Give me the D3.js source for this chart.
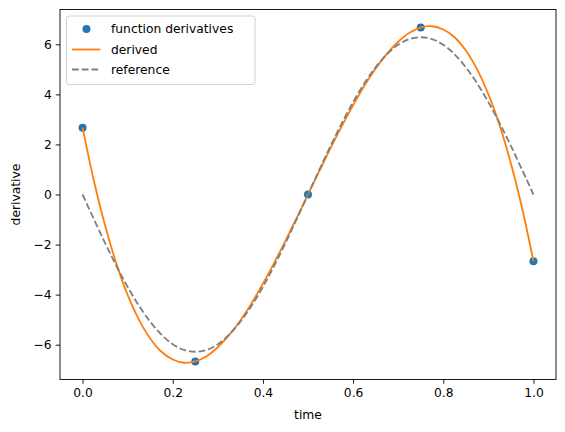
<!DOCTYPE html>
<html>
<head>
<meta charset="utf-8">
<script src="https://cdn.jsdelivr.net/npm/d3@7"></script>
<style>
  body { margin: 0; background: #fff; }
  svg { display: block; font-family: "DejaVu Sans", sans-serif; }
</style>
</head>
<body>
<svg id="chart" width="565" height="432"></svg>
<script>
// sample points (function derivatives)
const pointTimes = [0.0, 0.25, 0.5, 0.75, 1.0];
const pointValues = [2.67, -6.67, 0.0, 6.67, -2.67];

// curve samples
const curveTimes = [
  0.0, 0.025, 0.05, 0.075, 0.1, 0.125, 0.15, 0.175, 0.2, 0.225,
  0.25, 0.275, 0.3, 0.325, 0.35, 0.375, 0.4, 0.425, 0.45, 0.475,
  0.5, 0.525, 0.55, 0.575, 0.6, 0.625, 0.65, 0.675, 0.7, 0.725,
  0.75, 0.775, 0.8, 0.825, 0.85, 0.875, 0.9, 0.925, 0.95, 0.975, 1.0
];
const derivedValues = [
  2.67, 0.56, -1.24, -2.76, -4.01, -5.00, -5.75, -6.28, -6.59, -6.72,
  -6.67, -6.46, -6.10, -5.62, -5.03, -4.34, -3.56, -2.73, -1.85, -0.93,
  0.0, 0.93, 1.85, 2.73, 3.56, 4.34, 5.03, 5.62, 6.10, 6.46,
  6.67, 6.72, 6.59, 6.28, 5.75, 5.00, 4.01, 2.76, 1.24, -0.56, -2.67
];
const referenceValues = [
  0.0, -0.98, -1.94, -2.85, -3.69, -4.44, -5.08, -5.60, -5.98, -6.21,
  -6.28, -6.21, -5.98, -5.60, -5.08, -4.44, -3.69, -2.85, -1.94, -0.98,
  0.0, 0.98, 1.94, 2.85, 3.69, 4.44, 5.08, 5.60, 5.98, 6.21,
  6.28, 6.21, 5.98, 5.60, 5.08, 4.44, 3.69, 2.85, 1.94, 0.98, 0.0
];

const xTicks = [0.0, 0.2, 0.4, 0.6, 0.8, 1.0];
const yTicks = [-6, -4, -2, 0, 2, 4, 6];
const legendLabels = ["function derivatives", "derived", "reference"];

const svg = d3.select("#chart");
const margin = { left: 60, top: 9.5, right: 565 - 556, bottom: 432 - 379.5 };
const W = 565, H = 432;

const x = d3.scaleLinear().domain([-0.05, 1.05]).range([margin.left, W - margin.right]);
const y = d3.scaleLinear().domain([-7.39, 7.39]).range([H - margin.bottom, margin.top]);

const fmtY = d => (d < 0 ? "\u2212" + Math.abs(d) : "" + d);

// axes
const xAxis = svg.append("g")
  .attr("transform", `translate(0,${H - margin.bottom})`)
  .call(d3.axisBottom(x).tickValues(xTicks).tickFormat(d3.format(".1f")).tickSizeOuter(0).tickSize(4.3).tickPadding(4));
const yAxis = svg.append("g")
  .attr("transform", `translate(${margin.left},0)`)
  .call(d3.axisLeft(y).tickValues(yTicks).tickFormat(fmtY).tickSizeOuter(0).tickSize(4.3).tickPadding(4));

[xAxis, yAxis].forEach(a => {
  a.select(".domain").remove();
  a.selectAll("text").attr("font-size", 12.3).attr("fill", "#000").attr("font-family", "DejaVu Sans");
  a.selectAll("line").attr("stroke", "#000").attr("stroke-width", 0.9);
});

// frame
svg.append("rect")
  .attr("x", x(-0.05)).attr("y", y(7.39))
  .attr("width", x(1.05) - x(-0.05)).attr("height", y(-7.39) - y(7.39))
  .attr("fill", "none").attr("stroke", "#000").attr("stroke-width", 0.9);

// axis labels
svg.append("text")
  .attr("x", (x(-0.05) + x(1.05)) / 2).attr("y", 419)
  .attr("text-anchor", "middle").attr("font-size", 12.3).text("time");
svg.append("text")
  .attr("transform", `translate(20,${(y(7.39) + y(-7.39)) / 2}) rotate(-90)`)
  .attr("text-anchor", "middle").attr("font-size", 12.3).text("derivative");

svg.append("defs").append("clipPath").attr("id", "clip")
  .append("rect")
  .attr("x", x(-0.05)).attr("y", y(7.39))
  .attr("width", x(1.05) - x(-0.05)).attr("height", y(-7.39) - y(7.39));

const plot = svg.append("g").attr("clip-path", "url(#clip)");

const line = d3.line()
  .x(d => x(d[0]))
  .y(d => y(d[1]))
  .curve(d3.curveCatmullRom);

// points drawn first (matplotlib plotted them first)
plot.selectAll("circle.pt")
  .data(d3.zip(pointTimes, pointValues))
  .join("circle")
  .attr("class", "pt")
  .attr("cx", d => x(d[0])).attr("cy", d => y(d[1]))
  .attr("r", 4).attr("fill", "#1f77b4");

plot.append("path")
  .datum(d3.zip(curveTimes, derivedValues))
  .attr("d", line)
  .attr("fill", "none").attr("stroke", "#ff7f0e").attr("stroke-width", 1.84);

plot.append("path")
  .datum(d3.zip(curveTimes, referenceValues))
  .attr("d", line)
  .attr("fill", "none").attr("stroke", "#808080").attr("stroke-width", 1.84)
  .attr("stroke-dasharray", "6.8,2.9");

// legend
const lg = svg.append("g");
lg.append("rect")
  .attr("x", 66.5).attr("y", 16).attr("width", 188.5).attr("height", 68.5)
  .attr("rx", 2.5).attr("fill", "#fff").attr("fill-opacity", 0.8)
  .attr("stroke", "#cccccc").attr("stroke-width", 0.9);

const rowY = [29, 49.5, 69.5];
legendLabels.forEach((lab, i) => {
  const yy = rowY[i];
  if (i === 0) {
    lg.append("circle").attr("cx", 86.5).attr("cy", yy).attr("r", 4).attr("fill", "#1f77b4");
  } else {
    lg.append("line")
      .attr("x1", 72).attr("x2", 100.5).attr("y1", yy).attr("y2", yy)
      .attr("stroke", i === 1 ? "#ff7f0e" : "#808080").attr("stroke-width", 1.84)
      .attr("stroke-dasharray", i === 2 ? "6.8,2.9" : null);
  }
  lg.append("text")
    .attr("x", 111).attr("y", yy).attr("dy", "0.35em")
    .attr("font-size", 12.3).text(lab);
});
</script>
</body>
</html>
